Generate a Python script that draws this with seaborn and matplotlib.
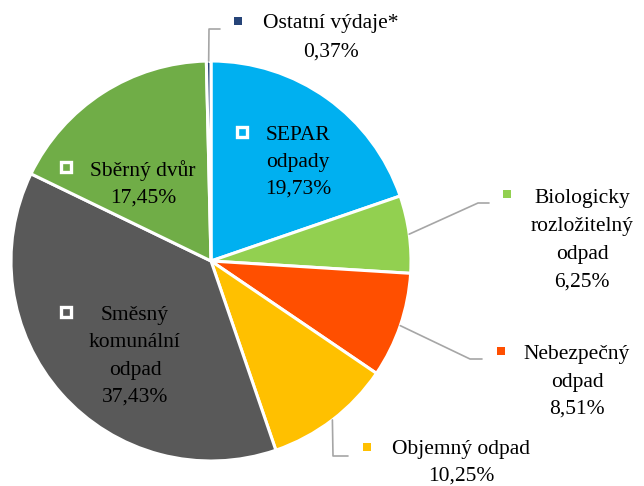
import os
import matplotlib
matplotlib.use("Agg")
import numpy as np
import matplotlib.pyplot as plt
import matplotlib.font_manager as fm
import seaborn as sns

# ---- data ----
categories = ["SEPAR odpady", "Biologicky rozložitelný odpad", "Nebezpečný odpad",
              "Objemný odpad", "Směsný komunální odpad", "Sběrný dvůr", "Ostatní výdaje*"]
shares = [19.73, 6.25, 8.51, 10.25, 37.43, 17.45, 0.37]
share_labels = ["19,73%", "6,25%", "8,51%", "10,25%", "37,43%", "17,45%", "0,37%"]
label_lines = [["SEPAR", "odpady"], ["Biologicky", "rozložitelný", "odpad"], ["Nebezpečný", "odpad"],
               ["Objemný odpad"], ["Směsný", "komunální", "odpad"], ["Sběrný dvůr"], ["Ostatní výdaje*"]]
colors = ["#00B0F0", "#92D050", "#FF4F00", "#FFC000", "#595959", "#70AD47", "#264478"]

# ---- layout (pixels in a 644x486 canvas) ----
W, H = 644, 486
CX, CY, R = 211, 261, 200
layout = [
    dict(tx=298, by=140, step=27, mk=(242, 132), inside=True, leader=None),
    dict(tx=582, by=203, step=28, mk=(507, 194), inside=False, leader=[(478, 203), (489, 203)]),
    dict(tx=577, by=359, step=27.5, mk=(501, 351), inside=False, leader=[(470, 359), (482, 359)]),
    dict(tx=461, by=454, step=27, mk=(367, 447), inside=False, leader=[(333, 456), (348, 456)]),
    dict(tx=135, by=320, step=27.3, mk=(66, 312), inside=True, leader=None),
    dict(tx=143, by=176, step=27, mk=(66, 167), inside=True, leader=None),
    dict(tx=331, by=28, step=29, mk=(238, 21), inside=False, leader=[(209, 29), (220, 29)]),
]

sns.set_theme(style="white")
plt.rcParams['font.family'] = ['Liberation Serif', 'DejaVu Serif']

FS = 15.5
path = "/usr/share/fonts/truetype/liberation/LiberationSerif-Regular.ttf"
if os.path.exists(path):
    fprop = fm.FontProperties(fname=path, size=FS)
else:
    fprop = fm.FontProperties(family=["Liberation Serif", "DejaVu Serif"], size=FS)

fig = plt.figure(figsize=(W / 100, H / 100), dpi=100)
fig.patch.set_facecolor("white")
ax = fig.add_axes([(CX - R) / W, (H - CY - R) / H, 2 * R / W, 2 * R / H])
wedges, _ = ax.pie(shares, colors=colors, startangle=90, counterclock=False, radius=1,
                   wedgeprops=dict(edgecolor="white", linewidth=2.2))
ax.set_xlim(-1, 1)
ax.set_ylim(-1, 1)
ax.set_aspect("equal")
ax.axis("off")


def p2d(x, y):
    return (x - CX) / R, (CY - y) / R


for i, (w, lay) in enumerate(zip(wedges, layout)):
    lines = label_lines[i] + [share_labels[i]]
    for k, line in enumerate(lines):
        x, y = p2d(lay["tx"], lay["by"] + k * lay["step"])
        ax.text(x, y, line, ha="center", va="baseline", fontproperties=fprop, color="black",
                clip_on=False)
    mx, my = p2d(*lay["mk"])
    if lay["inside"]:
        ax.plot([mx], [my], marker="s", ms=7, mfc=colors[i], mec="white", mew=2.4,
                clip_on=False, zorder=5)
    else:
        ax.plot([mx], [my], marker="s", ms=5.2, mfc=colors[i], mec=colors[i], mew=0,
                clip_on=False, zorder=5)
        mid = np.deg2rad((w.theta1 + w.theta2) / 2)
        pts = [(np.cos(mid), np.sin(mid))] + [p2d(*p) for p in lay["leader"]]
        xs, ys = zip(*pts)
        ax.plot(xs, ys, color="#A6A6A6", lw=1.2, clip_on=False, zorder=1)

fig.savefig("out.png", dpi=100, facecolor="white")
